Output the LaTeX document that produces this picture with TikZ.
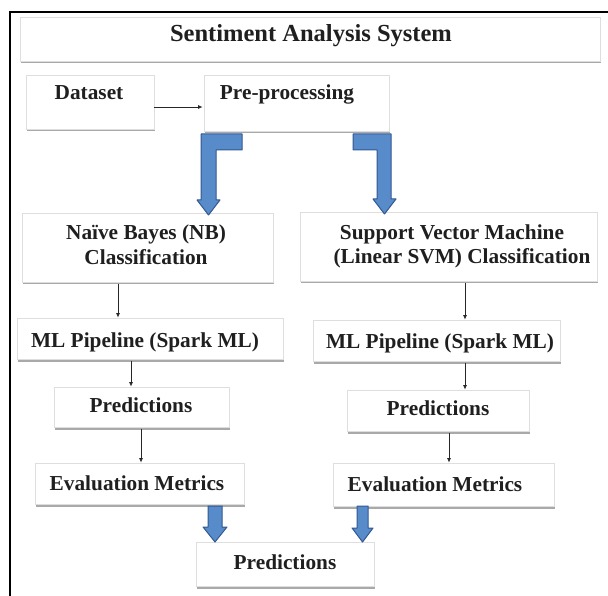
\documentclass[tikz,border=0pt]{standalone}
\usepackage{fontspec}
\setmainfont{Liberation Serif}
\usetikzlibrary{arrows.meta,shadows}

\definecolor{flowblue}{RGB}{88,139,202}
\definecolor{flowblueedge}{RGB}{50,88,145}

\tikzset{
  x=1pt, y=-1pt,
  box/.style={rectangle, fill=white, draw=black!13, line width=0.7pt,
              inner sep=0pt,
              drop shadow={shadow xshift=1.2pt, shadow yshift=-2.5pt,
                           fill=black!45, opacity=0.75}},
  lbl/.style={inner sep=0pt, anchor=base, text=black!88,
              font=\bfseries\fontsize{21.3}{25.5}\selectfont},
  ttl/.style={inner sep=0pt, anchor=base, text=black!88,
              font=\bfseries\fontsize{24.5}{29}\selectfont},
  arr/.style={draw=black!85, line width=0.8pt, -{Latex[length=4.5pt,width=4pt]}},
  bluearrow/.style={fill=flowblue, draw=flowblueedge, line width=1pt, line join=round},
}

\begin{document}
\begin{tikzpicture}
\useasboundingbox (0,0) rectangle (608,596);

% outer frame (left and top edges)
\draw[line width=1.3pt] (10,596) -- (10,12) -- (608,12);

% boxes
\node[box, minimum width=580, minimum height=44] (title)   at (310,39) {};
\node[box, minimum width=128, minimum height=54] (dataset) at (90,102) {};
\node[box, minimum width=185, minimum height=56] (pre)     at (296.5,103) {};
\node[box, minimum width=251, minimum height=69] (nb)      at (147.5,247.5) {};
\node[box, minimum width=297, minimum height=69] (svm)     at (448.5,246.5) {};
\node[box, minimum width=266, minimum height=41] (mlA)     at (150,338.5) {};
\node[box, minimum width=247, minimum height=41] (mlB)     at (436.5,340.5) {};
\node[box, minimum width=175, minimum height=40] (predA)   at (141.5,407) {};
\node[box, minimum width=182, minimum height=41] (predB)   at (438,410.5) {};
\node[box, minimum width=209, minimum height=41] (evalA)   at (139.5,483.5) {};
\node[box, minimum width=221, minimum height=43] (evalB)   at (443.5,484.5) {};
\node[box, minimum width=178, minimum height=44] (final)   at (285,564) {};

% labels
\node[ttl] (title-t)   at (311,42)  {Sentiment Analysis System};
\node[lbl] (dataset-t) at (89,100)  {Dataset};
\node[lbl] (pre-t)     at (287,100) {Pre-processing};
\node[lbl] (nb-t1)     at (146,240) {Naïve Bayes (NB)};
\node[lbl] (nb-t2)     at (146,265) {Classification};
\node[lbl] (svm-t1)    at (452,240) {Support Vector Machine};
\node[lbl] (svm-t2)    at (462,264) {(Linear SVM) Classification};
\node[lbl] (mlA-t)     at (145,347) {ML Pipeline (Spark ML)};
\node[lbl] (mlB-t)     at (440,348) {ML Pipeline (Spark ML)};
\node[lbl] (predA-t)   at (141,412) {Predictions};
\node[lbl] (predB-t)   at (438,415) {Predictions};
\node[lbl] (evalA-t)   at (137,490) {Evaluation Metrics};
\node[lbl] (evalB-t)   at (435,491) {Evaluation Metrics};
\node[lbl] (final-t)   at (285,569) {Predictions};

% thin connectors
\coordinate (row) at (0,107);
\draw[arr] (dataset.east |- row) -- ([xshift=-1pt]pre.west |- row);

\coordinate (cA1) at (118,0);
\coordinate (cB1) at (465,0);
\coordinate (cA2) at (131,0);
\coordinate (cB2) at (465,0);
\coordinate (cA3) at (141,0);
\coordinate (cB3) at (449,0);
\draw[arr] ([yshift=-1.5pt]nb.south -| cA1)   -- (mlA.north -| cA1);
\draw[arr] ([yshift=-1.5pt]svm.south -| cB1)  -- (mlB.north -| cB1);
\draw[arr] ([yshift=-1.5pt]mlA.south -| cA2)  -- (predA.north -| cA2);
\draw[arr] ([yshift=-1.5pt]mlB.south -| cB2)  -- (predB.north -| cB2);
\draw[arr] ([yshift=-1.5pt]predA.south -| cA3) -- (evalA.north -| cA3);
\draw[arr] ([yshift=-1.5pt]predB.south -| cB3) -- (evalB.north -| cB3);

% bent block arrows from pre-processing to the two classifiers
\draw[bluearrow] (242,134) -- (201,134) -- (201,200) -- (197,200) -- (208.5,215)
  -- (220,200) -- (216,200) -- (216,150) -- (242,150) -- cycle;
\draw[bluearrow] (353,134) -- (391,134) -- (391,199) -- (396,199) -- (384.5,214)
  -- (373,199) -- (377,199) -- (377,150) -- (353,150) -- cycle;

% block arrows into the final predictions
\draw[bluearrow] (208,506) -- (222,506) -- (222,527) -- (227,527) -- (215,542)
  -- (203,527) -- (208,527) -- cycle;
\draw[bluearrow] (357,506) -- (368,506) -- (368,528) -- (373,528) -- (362.5,542)
  -- (352,528) -- (357,528) -- cycle;
\end{tikzpicture}
\end{document}
